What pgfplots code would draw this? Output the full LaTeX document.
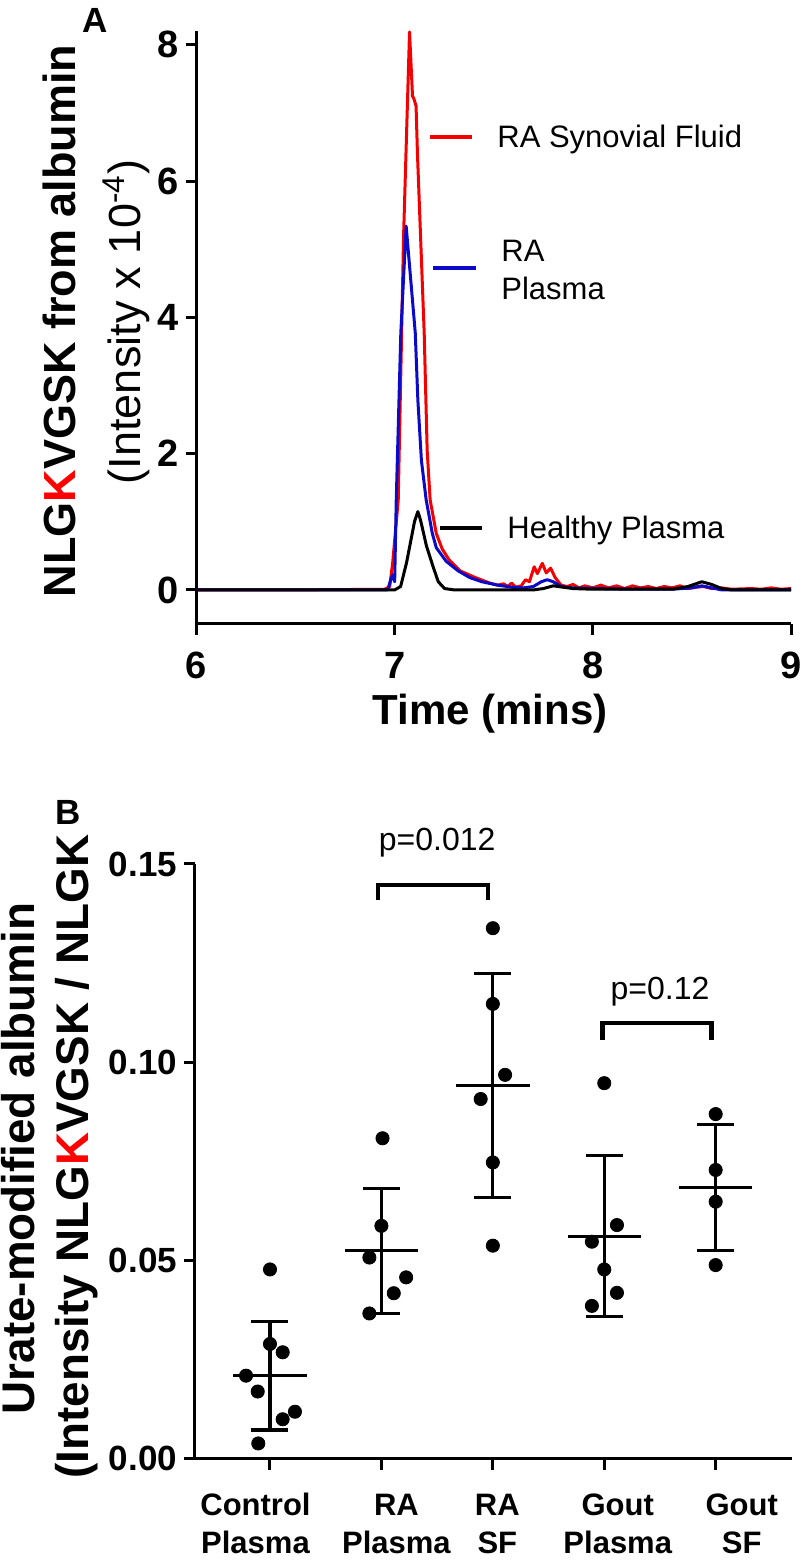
\documentclass[border=0pt]{standalone}
\usepackage{fontspec}
\setmainfont{Liberation Sans}
\usepackage{pgfplots}
\pgfplotsset{compat=1.18}
\definecolor{rared}{RGB}{245,0,0}
\definecolor{rablue}{RGB}{10,10,200}
\newcommand{\lb}[3]{\hbox to 0pt{\hss\hskip#1\hskip#1\begin{tabular}{@{}c@{}}#2\\#3\end{tabular}\hss}}
\begin{document}
\begin{tikzpicture}
\useasboundingbox (0,0) rectangle (400pt,782.5pt);
% ---------------- Panel A ----------------
\begin{axis}[at={(98.25pt,470.5pt)}, anchor=south west, scale only axis,
  width=297.25pt, height=296.4pt,
  xmin=6, xmax=9, ymin=-0.5, ymax=8.2,
  axis x line=bottom, axis y line=left,
  axis line style={line width=1.5pt,-},
  xtick={6,7,8,9}, ytick={0,2,4,6,8},
  tick align=outside, major tick length=5.5pt,
  tick style={line width=1.5pt,black},
  /pgf/number format/assume math mode=true,
  ticklabel style={font=\bfseries\fontsize{19}{19}\selectfont},
  xticklabel style={yshift=-5pt},
  clip=false]
\addplot[rared, line width=1.5pt, line join=round] coordinates {
(6.00,0) (6.50,0) (6.95,0.01) (6.975,0.05) (6.99,0.4) (7.018,1.32) (7.045,5.2)
(7.075,8.19) (7.09,7.25) (7.098,7.2) (7.108,7.1) (7.115,6.4) (7.149,3.77)
(7.164,2.05) (7.179,1.32) (7.21,0.83) (7.24,0.6) (7.275,0.44) (7.33,0.28)
(7.40,0.19) (7.48,0.10) (7.52,0.07) (7.55,0.09) (7.57,0.05) (7.59,0.10)
(7.61,0.04) (7.639,0.06) (7.66,0.15) (7.68,0.12) (7.704,0.34) (7.72,0.24)
(7.745,0.39) (7.765,0.25) (7.787,0.32) (7.81,0.18) (7.84,0.07) (7.87,0.05)
(7.90,0.08) (7.93,0.03) (7.96,0.06) (8.00,0.03) (8.04,0.07) (8.08,0.03)
(8.12,0.06) (8.16,0.02) (8.20,0.06) (8.24,0.03) (8.28,0.05) (8.32,0.02)
(8.36,0.05) (8.40,0.03) (8.44,0.06) (8.48,0.02) (8.52,0.04) (8.56,0.05)
(8.60,0.02) (8.65,0.03) (8.70,0.01) (8.80,0.02) (8.85,0.01) (8.90,0.03)
(8.95,0.01) (9.00,0.02)};
\addplot[rablue, line width=1.5pt, line join=round] coordinates {
(6.00,0) (6.965,0) (6.98,0.15) (6.99,0.22) (7.00,0.12) (7.008,1.32)
(7.031,3.77) (7.058,5.34) (7.065,5.1) (7.104,3.77) (7.117,2.79) (7.135,1.9)
(7.159,1.32) (7.19,0.83) (7.21,0.62) (7.26,0.42) (7.32,0.28) (7.38,0.18)
(7.44,0.12) (7.52,0.07) (7.59,0.04) (7.65,0.03) (7.70,0.05) (7.74,0.12)
(7.77,0.15) (7.80,0.12) (7.84,0.05) (7.90,0.03) (8.00,0.02) (8.20,0.01)
(8.40,0.01) (8.50,0.03) (8.55,0.06) (8.60,0.03) (8.65,0) (9.00,0)};
\addplot[black, line width=1.5pt, line join=round] coordinates {
(6.00,0) (7.00,0) (7.03,0.05) (7.06,0.4) (7.08,0.7) (7.10,1.0) (7.117,1.15)
(7.128,1.05) (7.135,0.97) (7.16,0.65) (7.194,0.34) (7.22,0.12) (7.252,0.02)
(7.30,0) (7.70,0) (7.75,0.02) (7.80,0.06) (7.85,0.04) (7.90,0.02) (8.00,0.01)
(8.40,0.01) (8.48,0.05) (8.55,0.12) (8.60,0.08) (8.65,0.02) (8.70,0) (9.00,0)};
\end{axis}
% legend of panel A
\draw[rared, line width=1.6pt] (215pt,714pt) -- (236pt,714pt);
\node[anchor=base west, inner sep=0pt, font=\fontsize{15.5}{19}\selectfont] at (248.5pt,708.5pt) {RA Synovial Fluid};
\draw[rablue, line width=1.6pt] (216.5pt,648.5pt) -- (238pt,648.5pt);
\node[anchor=base west, inner sep=0pt, font=\fontsize{15.5}{19}\selectfont] at (250.5pt,651.5pt) {RA};
\node[anchor=base west, inner sep=0pt, font=\fontsize{15.5}{19}\selectfont] at (250.5pt,632.5pt) {Plasma};
\draw[black, line width=1.6pt] (220pt,518.5pt) -- (241pt,518.5pt);
\node[anchor=base west, inner sep=0pt, font=\fontsize{15.5}{19}\selectfont] at (253.5pt,513pt) {Healthy Plasma};
% axis titles panel A
\node[rotate=90, anchor=base, inner sep=0pt, font=\bfseries\fontsize{22.5}{26}\selectfont] at (37.5pt,622pt) {NLG{\color{red}K}VGSK from albumin};
\node[rotate=90, anchor=base, inner sep=0pt, font=\fontsize{22.5}{26}\selectfont] at (70pt,621.5pt) {(Intensity x 10\textsuperscript{-4})};
\node[anchor=base, inner sep=0pt, font=\bfseries\fontsize{21}{25}\selectfont] at (245pt,420pt) {Time (mins)};
\node[anchor=base west, inner sep=0pt, font=\bfseries\fontsize{17.5}{20}\selectfont] at (41pt,766pt) {A};
% ---------------- Panel B ----------------
\begin{axis}[at={(97.5pt,53.25pt)}, anchor=south west, scale only axis,
  width=298.5pt, height=297.25pt,
  xmin=0.327, xmax=5.685, ymin=0, ymax=0.15,
  axis x line=bottom, axis y line=left,
  axis line style={line width=1.5pt,-},
  xtick={1,2,3,4,5},
  xticklabels={{\lb{-7.25pt}{Control}{Plasma}},{\lb{7.5pt}{RA}{Plasma}},{\lb{2.25pt}{RA}{SF}},{\lb{6.75pt}{Gout}{Plasma}},{\lb{13pt}{Gout}{SF}}},
  ytick={0,0.05,0.1,0.15},
  scaled y ticks=false,
  yticklabel style={/pgf/number format/fixed, /pgf/number format/fixed zerofill, /pgf/number format/precision=2},
  tick align=outside, major tick length=5.5pt,
  tick style={line width=1.5pt,black},
  /pgf/number format/assume math mode=true,
  yticklabel style={font=\bfseries\fontsize{17.5}{17.5}\selectfont},
  xticklabel style={font=\bfseries\fontsize{15.5}{19}\selectfont, yshift=-6pt},
  clip=false]
\addplot[black, only marks, mark=*, mark size=3.3pt] coordinates {
(1.000,0.0477) (1.000,0.0289) (1.114,0.0268) (0.785,0.0209) (0.890,0.0169)
(1.224,0.0118) (1.114,0.0099) (0.895,0.0038)
(2.010,0.0808) (2.000,0.0587) (1.892,0.0507) (2.222,0.0457) (2.111,0.0417) (1.892,0.0366)
(3.000,0.1338) (3.000,0.1147) (3.110,0.0968) (2.891,0.0907) (3.000,0.0747) (3.000,0.0537)
(4.000,0.0947) (4.114,0.0589) (3.889,0.0547) (4.000,0.0477) (4.114,0.0418) (3.889,0.0385)
(5.000,0.0869) (5.000,0.0728) (5.000,0.0648) (5.000,0.0488)};
\addplot[black, line width=1.6pt, only marks, mark=-, mark size=18.35pt, mark options={line width=1.6pt, solid},
  error bars/.cd, y dir=both, y explicit,
  error bar style={line width=1.6pt},
  error mark options={rotate=90, line width=1.6pt, mark size=9.25pt}] coordinates {
(1,0.0209) +- (0,0.0137)
(2,0.0524) +- (0,0.0158)
(3,0.0941) +- (0,0.0283)
(4,0.0561) +- (0,0.0203)
(5,0.0683) +- (0,0.0159)};
\draw[line width=2.2pt] (axis cs:1.97,0.1408) -- (axis cs:1.97,0.1447) -- (axis cs:2.957,0.1447) -- (axis cs:2.957,0.1408);
\draw[line width=2.2pt] (axis cs:3.985,0.1056) -- (axis cs:3.985,0.1099) -- (axis cs:4.963,0.1099) -- (axis cs:4.963,0.1056);
\node[anchor=base, inner sep=0pt, font=\fontsize{16}{19}\selectfont] at (axis cs:2.5,0.1535) {p=0.012};
\node[anchor=base, inner sep=0pt, font=\fontsize{16}{19}\selectfont] at (axis cs:4.5,0.1157) {p=0.12};
\end{axis}
\node[rotate=90, anchor=base, inner sep=0pt, font=\bfseries\fontsize{22.9}{26}\selectfont] at (17pt,203.25pt) {Urate-modified albumin};
\node[rotate=90, anchor=base west, inner sep=0pt, font=\bfseries\fontsize{22.9}{26}\selectfont] at (44pt,43pt) {(Intensity NLG{\color{red}K}VGSK / NLGK};
\node[anchor=base west, inner sep=0pt, font=\bfseries\fontsize{17.5}{20}\selectfont] at (27.5pt,370pt) {B};
\end{tikzpicture}
\end{document}
